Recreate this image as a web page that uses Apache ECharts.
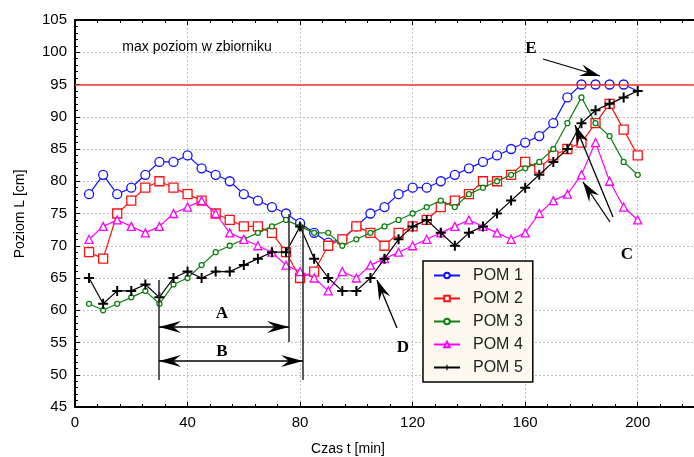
<!DOCTYPE html>
<html><head><meta charset="utf-8">
<script src="https://cdn.jsdelivr.net/npm/echarts@6/dist/echarts.min.js"></script>
<style>html,body{margin:0;padding:0;background:#fff}#c{width:694px;height:457px}</style>
</head><body><div id="c"></div>
<script>
// ---- data ----
const times = [5,10,15,20,25,30,35,40,45,50,55,60,65,70,75,80,85,90,95,100,105,110,115,120,125,130,135,140,145,150,155,160,165,170,175,180,185,190,195,200];
const pom1 = [78,81,78,79,81,83,83,84,82,81,80,78,77,76,75,73.5,72,70.5,71,73,75,76,78,79,79,80,81,82,83,84,85,86,87,89,93,95,95,95,95,94];
const pom2 = [69,68,75,77,79,80,79,78,77,75,74,73,73,72,69,65,66,70,71,73,72,70,72,73,74,76,77,78,80,80,81,83,82,84,85,86,89,92,88,84];
const pom3 = [61,60,61,62,63,61,64,65,67,69,70,71,72,73,74,73,72,72,70,71,72,73,74,75,76,77,76,78,79,80,81,82,83,85,89,93,89,87,83,81];
const pom4 = [71,73,74,73,72,73,75,76,77,75,72,71,70,69,67,66,65,63,66,65,67,68,69,70,71,72,73,74,73,72,71,72,75,77,78,81,86,80,76,74];
const pom5 = [65,61,63,63,64,62,65,66,65,66,66,67,68,69,69,73,68,65,63,63,65,68,71,73,74,72,70,72,73,75,77,79,81,83,85,89,91,92,93,94];
const seriesNames = ['POM 1','POM 2','POM 3','POM 4','POM 5'];
const seriesValues = [pom1,pom2,pom3,pom4,pom5];
const maxLevel = 95;
const xTicks = [0,40,80,120,160,200];
const yTicks = [45,50,55,60,65,70,75,80,85,90,95,100,105];

// ---- styles ----
const colors = ['#1010ff','#ff1010','#108010','#ff00ff','#000000'];
const symbols = ['circle','rect','circle','triangle','path://M4,0H6V4H10V6H6V10H4V6H0V4H4Z'];
const sizes = [9,9,5,8,10];
const SANS = '"Liberation Sans", Arial, sans-serif';
const SERIF = '"Liberation Serif", "Times New Roman", serif';

const series = seriesNames.map((n,i)=>{
  const hollow = i<4;
  const data = times.map((t,k)=>{
    const item = {value:[t, seriesValues[i][k]]};
    if (i===0 && k===times.length-1) item.symbol='none';
    return item;
  });
  const s = {
    name:n, type:'line', data, symbol:symbols[i], symbolSize:sizes[i],
    lineStyle:{color:colors[i], width:1.2},
    itemStyle: hollow ? {color:'#fff', borderColor:colors[i], borderWidth:1.3} : {color:'#000', borderWidth:0},
    emphasis:{disabled:true}, animation:false, z:3+i
  };
  if (i===0) {
    s.markLine = {silent:true, symbol:['none','none'], label:{show:false},
      lineStyle:{color:'#ff3030', width:1.5, type:'solid'}, data:[{yAxis:maxLevel}]};
  }
  return s;
});

// ---- annotations (decorative) ----
function arrowHead(x1,y1,x2,y2,L,W){
  const dx=x2-x1, dy=y2-y1, len=Math.hypot(dx,dy), ux=dx/len, uy=dy/len, nx=-uy, ny=ux;
  const bx=x2-ux*L, by=y2-uy*L, mx=x2-ux*L*0.65, my=y2-uy*L*0.65;
  return {type:'polygon', z:100, shape:{points:[[x2,y2],[bx+nx*W,by+ny*W],[mx,my],[bx-nx*W,by-ny*W]]}, style:{fill:'#000'}};
}
function seg(x1,y1,x2,y2,w,c){return {type:'line', z:100, shape:{x1,y1,x2,y2}, style:{stroke:c||'#000', lineWidth:w||1.3}};}
function txt(x,y,t,font,rot){const o={type:'text', z:100, x, y, style:{text:t, font, fill:'#000', align:'center', verticalAlign:'middle'}}; if(rot) o.rotation=rot; return o;}

const graphics = [
  txt(197,47,'max poziom w zbiorniku','14px '+SANS),
  txt(20,214,'Poziom L [cm]','14px '+SANS, Math.PI/2),
  txt(348,449,'Czas t [min]','14px '+SANS),
  // A / B
  seg(159,280,159,380,1.6,'#333'), seg(289,214,289,342,1.6,'#333'), seg(303,225,303,380,1.6,'#333'),
  seg(159,327,289,327,1.3), arrowHead(289,327,159,327,22,6), arrowHead(159,327,289,327,22,6),
  seg(159,361,303,361,1.3), arrowHead(303,361,159,361,22,6), arrowHead(159,361,303,361,22,6),
  txt(222,314,'A','bold 17px '+SERIF), txt(222,352,'B','bold 17px '+SERIF),
  // D
  seg(397,328,377,280,1.3), arrowHead(397,328,377,280,20,6), txt(403,348,'D','bold 17px '+SERIF),
  // C
  seg(613,217,575,125,1.3), arrowHead(613,217,575,125,20,6),
  seg(610,222,583,182,1.3), arrowHead(610,222,583,182,20,6),
  txt(627,255,'C','bold 17px '+SERIF),
  // E
  seg(543,59,600,76,1.3), arrowHead(543,59,600,76,20,6), txt(531,49,'E','bold 17px '+SERIF)
];

const chart = echarts.init(document.getElementById('c'), null, {renderer:'canvas'});
const gridDot = {show:true, lineStyle:{color:'#bdbdbd', width:1, type:[2,2]}};
chart.setOption({
  backgroundColor:'#fff',
  animation:false,
  grid:{left:75, top:20, right:-8, bottom:50, containLabel:false},
  xAxis:[
    {type:'value', min:0, max:220, interval:40, position:'bottom',
     axisLine:{onZero:false, lineStyle:{color:'#000', width:2}},
     axisTick:{inside:true, length:5, lineStyle:{color:'#000'}},
     minorTick:{show:true, splitNumber:5, length:3, lineStyle:{color:'#000'}},
     axisLabel:{fontSize:15, color:'#000', margin:8, fontFamily:SANS, showMaxLabel:false,
       formatter:v=>xTicks.indexOf(v)>=0?String(v):''},
     splitLine:gridDot},
    {type:'value', min:0, max:220, interval:40, position:'top',
     axisLine:{onZero:false, lineStyle:{color:'#000', width:2}},
     axisTick:{inside:true, length:5, lineStyle:{color:'#000'}},
     minorTick:{show:true, splitNumber:5, length:3, lineStyle:{color:'#000'}},
     axisLabel:{show:false}, splitLine:{show:false}}
  ],
  yAxis:{type:'value', min:45, max:105, interval:5,
     axisLine:{onZero:false, lineStyle:{color:'#000', width:2}},
     axisTick:{inside:true, length:5, lineStyle:{color:'#000'}},
     minorTick:{show:true, splitNumber:5, length:3, lineStyle:{color:'#000'}},
     axisLabel:{fontSize:15, color:'#000', margin:8, fontFamily:SANS,
       formatter:v=>yTicks.indexOf(v)>=0?String(v):''},
     splitLine:gridDot},
  legend:{orient:'vertical', left:423, top:261, padding:[6,10,6,10], itemGap:6,
    itemWidth:26, itemHeight:7, backgroundColor:'#fdf9ee', borderColor:'#000', borderWidth:1.5,
    textStyle:{fontSize:16, fontFamily:SANS, color:'#222', padding:[0,0,0,8], lineHeight:17},
    data:seriesNames, selectedMode:false},
  graphic:graphics,
  series
});
</script></body></html>
